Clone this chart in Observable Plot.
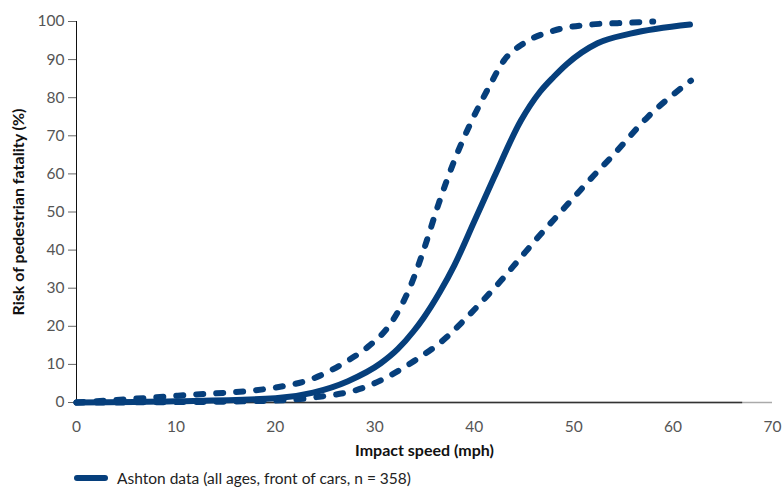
<!DOCTYPE html>
<html><head><meta charset="utf-8">
<script src="https://cdn.jsdelivr.net/npm/d3@7"></script>
<script src="https://cdn.jsdelivr.net/npm/@observablehq/plot@0.6"></script>
<style>
body{margin:0;background:#fff;font-family:Lato,"Open Sans",sans-serif;}
#legend{display:flex;align-items:center;height:22px;margin-top:2px;padding-left:72px;font-size:15.5px;color:#222;}
#legend svg{margin-right:7px;}
</style></head><body>
<div id="chart"></div>
<div id="legend"></div>
<script>
const estimateSpeed = [0, 10, 20, 23.8, 27.3, 30.6, 32.3, 33.9, 34.9, 36.5, 38.0, 40.0, 42.0, 44.7, 46.6, 48.0, 49.3, 52.4, 55.7, 61.7];
const estimateRisk  = [0, 0.3, 1.1, 2.6, 5.6, 10.3, 14, 18.7, 22.2, 28.8, 36, 47.5, 59.1, 74, 81.5, 85.5, 88.8, 94.3, 96.8, 99.2];
const upperSpeed = [0, 10.2, 20.2, 23.8, 27.3, 29.5, 31.4, 33.5, 34.9, 36.4, 38.0, 39.6, 41.4, 43.0, 45.0, 48.0, 51.7, 55.7, 58.0];
const upperRisk  = [0, 1.8, 4.0, 6.3, 11.0, 15, 20, 30, 39.9, 52, 63.5, 73.1, 82.4, 89.8, 94.3, 97.6, 99.2, 99.7, 100];
const lowerSpeed = [0, 10, 20, 23.8, 28.9, 33.9, 37.3, 38.6, 40.6, 42.7, 44.5, 46.3, 48.7, 50.7, 52.0, 54.0, 57.4, 61.8];
const lowerRisk  = [0, 0.1, 0.5, 1.3, 3.9, 10.8, 17.3, 20.6, 26, 32, 37.5, 43, 50, 55.8, 59.5, 65, 74.8, 84.5];
const xTicks = [0, 10, 20, 30, 40, 50, 60, 70];
const yTicks = [0, 10, 20, 30, 40, 50, 60, 70, 80, 90, 100];
const axisDarkEnd = 67;
const xTitle = "Impact speed (mph)";
const yTitle = "Risk of pedestrian fatality (%)";
const legendText = "Ashton data (all ages, front of cars, n = 358)";

const toRows = (xs, ys) => xs.map((x, i) => ({speed: x, risk: ys[i]}));
const estimate = toRows(estimateSpeed, estimateRisk);
const upper = toRows(upperSpeed, upperRisk);
const lower = toRows(lowerSpeed, lowerRisk);
const blue = "#063f7c";

const chart = Plot.plot({
  width: 784, height: 465,
  marginLeft: 76, marginRight: 12, marginTop: 21, marginBottom: 63,
  style: {fontFamily: "Lato, 'Open Sans', sans-serif", fontSize: "15px", color: "#555", background: "#fff"},
  x: {domain: [0, 70]},
  y: {domain: [0, 100]},
  marks: [
    Plot.axisX({ticks: xTicks, tickSize: 0, tickPadding: 18, label: null, fontSize: 15.5, color: "#555"}),
    Plot.axisY({ticks: yTicks, tickSize: 8, tickPadding: 4, label: null, fontSize: 15.5, stroke: "#666", color: "#555"}),
    Plot.ruleY([0], {stroke: "#aaa", strokeWidth: 1.5}),
    Plot.ruleY([0], {x1: 0, x2: axisDarkEnd, stroke: "#333", strokeWidth: 1.5}),
    Plot.ruleX([0], {stroke: "#111", strokeWidth: 1}),
    Plot.line(upper, {x: "speed", y: "risk", stroke: blue, strokeWidth: 6, strokeDasharray: "7,13", strokeLinecap: "round", curve: "monotone-x"}),
    Plot.line(lower, {x: "speed", y: "risk", stroke: blue, strokeWidth: 6, strokeDasharray: "7,13", strokeLinecap: "round", curve: "monotone-x"}),
    Plot.line(estimate, {x: "speed", y: "risk", stroke: blue, strokeWidth: 6, strokeLinecap: "round", curve: "monotone-x"}),
    Plot.text([xTitle], {frameAnchor: "bottom", dy: 48, lineAnchor: "middle", textAnchor: "middle", text: d => d, fontWeight: "bold", fontSize: 16, fill: "#111"}),
    Plot.text([yTitle], {frameAnchor: "left", dx: -58, rotate: -90, lineAnchor: "middle", textAnchor: "middle", text: d => d, fontWeight: "bold", fontSize: 16, fill: "#111"})
  ]
});
document.getElementById("chart").appendChild(chart);

const lg = document.getElementById("legend");
lg.innerHTML = `<svg width="38" height="10"><line x1="5" y1="5" x2="33" y2="5" stroke="${blue}" stroke-width="6" stroke-linecap="round"/></svg><span>${legendText}</span>`;
</script>
</body></html>
